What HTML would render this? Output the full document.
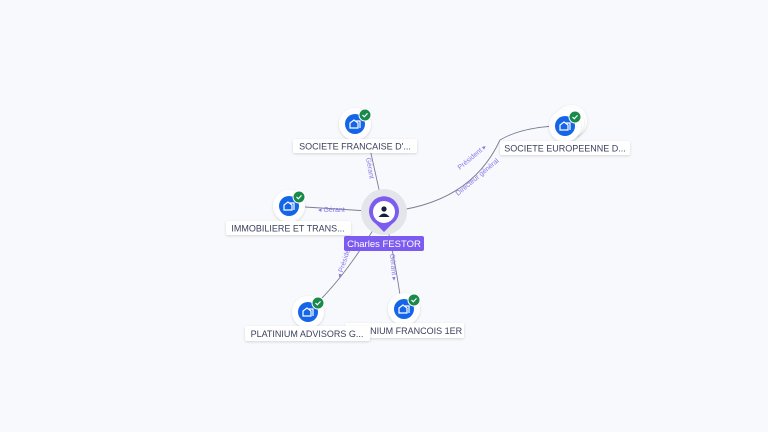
<!DOCTYPE html>
<html><head><style>
html,body{margin:0;padding:0;background:#f8f9fd;}
svg{display:block;font-family:"Liberation Sans",sans-serif;}
.lb{fill:#fff;filter:url(#sh);}
.lt{font-size:9px;fill:#3a3f5c;text-anchor:middle;}
.el{font-size:7px;fill:#8a78e8;}
</style></head><body>
<svg width="768" height="432" viewBox="0 0 768 432">
<defs>
<filter id="sh" x="-20%" y="-40%" width="140%" height="180%"><feDropShadow dx="0" dy="1" stdDeviation="1.2" flood-color="#000" flood-opacity="0.15"/></filter>
<g id="node">
<circle r="16" fill="#fff" filter="url(#sh)"/>
<circle r="10" fill="#1565e8"/>
<path d="M-5 4 V-1 L-1 -4 L3 -1 V4 Z M1 -3 H5 V4" fill="none" stroke="#fff" stroke-width="1.2"/>
<circle cx="10" cy="-9" r="6" fill="#1a8a4a" stroke="#fff" stroke-width="1"/>
<path d="M7.5 -9 L9.3 -7.2 L12.5 -10.6" fill="none" stroke="#fff" stroke-width="1.2"/>
</g>
</defs>
<g stroke="#7a7e95" stroke-width="0.9" fill="none">
<path d="M384 212 L368 140"/>
<path d="M384 212 L305 207"/>
<path d="M384 212 Q470 205 500 140 Q520 128 555 126"/>
<path d="M384 212 Q350 270 320 300"/>
<path d="M384 212 Q395 260 400 295"/>
</g>
<text class="el" transform="translate(366,158) rotate(80)">Gérant</text>
<text class="el" transform="translate(318,212)">◂ Gérant</text>
<text class="el" transform="translate(460,170) rotate(-40)">Président ▸</text>
<text class="el" transform="translate(458,196) rotate(-40)">Directeur général</text>
<text class="el" transform="translate(341,278) rotate(-72)">◂ Président</text>
<text class="el" transform="translate(390,254) rotate(85)">Gérant ▸</text>
<circle cx="384" cy="212" r="23" fill="#e4e5ea"/>
<path d="M384 232 L376 224 A15 15 0 1 1 392 224 Z" fill="#7c5cf0"/>
<circle cx="384" cy="212" r="11" fill="#fff"/>
<circle cx="384" cy="209" r="2.6" fill="#1a1d3a"/>
<path d="M378.5 217 Q384 210 389.5 217 Z" fill="#1a1d3a"/>
<rect x="344" y="236" width="80" height="15" rx="2" fill="#7c5cf0"/>
<text x="384" y="247" font-size="9.5" fill="#fff" text-anchor="middle">Charles FESTOR</text>
<use href="#node" x="355" y="124"/>
<rect class="lb" x="293" y="139" width="124" height="14" rx="2"/><text class="lt" x="355" y="149.5">SOCIETE FRANCAISE D'...</text>
<use href="#node" x="289" y="206"/>
<rect class="lb" x="226" y="221" width="125" height="14" rx="2"/><text class="lt" x="288" y="231.5">IMMOBILIERE ET TRANS...</text>
<circle cx="571" cy="121" r="16" fill="#fff" filter="url(#sh)"/>
<circle cx="568" cy="123" r="16" fill="#fff" filter="url(#sh)"/>
<use href="#node" x="565" y="126"/>
<rect class="lb" x="500" y="141" width="130" height="14" rx="2"/><text class="lt" x="565" y="151.5">SOCIETE EUROPEENNE D...</text>
<use href="#node" x="404" y="309"/>
<rect class="lb" x="345" y="323" width="119" height="15" rx="2"/><text class="lt" x="404" y="334">PLATINIUM FRANCOIS 1ER</text>
<use href="#node" x="308" y="312"/>
<rect class="lb" x="245" y="326" width="125" height="15" rx="2"/><text class="lt" x="307" y="337">PLATINIUM ADVISORS G...</text>
</svg>
</body></html>
